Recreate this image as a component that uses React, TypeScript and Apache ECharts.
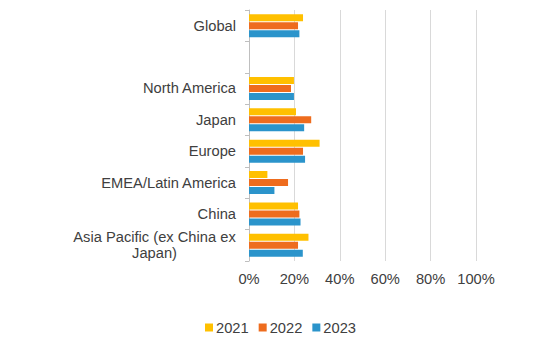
import React, { useEffect, useRef } from "react";
import * as echarts from "echarts";

const categories = [
  "Global",
  "",
  "North America",
  "Japan",
  "Europe",
  "EMEA/Latin America",
  "China",
  "Asia Pacific (ex China ex Japan)",
];
const seriesNames = ["2021", "2022", "2023"];
const values2021 = [23.8, null, 19.8, 20.7, 31.1, 8.1, 21.6, 26.2];
const values2022 = [21.6, null, 18.5, 27.4, 23.8, 17.2, 22.2, 21.6];
const values2023 = [22.2, null, 19.8, 24.3, 24.7, 11.2, 22.7, 23.7];
const xTicks = [0, 20, 40, 60, 80, 100];
const colors = ["#FFC000", "#EE6C1E", "#2B94CB"];

export default function App() {
  const ref = useRef<HTMLDivElement>(null);
  useEffect(() => {
    if (!ref.current) return;
    const chart = echarts.init(ref.current, null, { renderer: "svg" });
    const font = "Liberation Sans, Arial, sans-serif";
    const fs = 14.7;
    const all = [values2021, values2022, values2023];
    chart.setOption({
      animation: false,
      textStyle: { fontFamily: font },
      grid: { left: 249, right: 58, top: 10, bottom: 96, containLabel: false },
      legend: {
        data: seriesNames,
        bottom: 17,
        left: 200,
        itemWidth: 8,
        itemHeight: 8,
        itemGap: 10,
        icon: "rect",
        textStyle: { fontSize: fs, color: "#404040", fontFamily: font, padding: [0, 0, 0, -2] },
      },
      xAxis: {
        type: "value",
        min: xTicks[0],
        max: xTicks[xTicks.length - 1],
        interval: 20,
        axisLine: { show: false },
        axisTick: { show: false },
        splitLine: { show: true, lineStyle: { color: "#D9D9D9", width: 1 } },
        axisLabel: {
          formatter: (v: number) => v + "%",
          fontSize: fs,
          color: "#404040",
          fontFamily: font,
          margin: 10,
        },
      },
      yAxis: {
        type: "category",
        inverse: true,
        data: categories,
        axisLine: { show: true, lineStyle: { color: "#BFBFBF", width: 1 } },
        axisTick: { show: true, length: 4, lineStyle: { color: "#BFBFBF" } },
        splitLine: { show: false },
        axisLabel: {
          fontSize: fs,
          color: "#404040",
          fontFamily: font,
          margin: 13,
          formatter: (v: string) => {
            if (v.indexOf("Asia Pacific") === 0) {
              return "{c|Asia Pacific (ex China ex}\n{c|Japan)}";
            }
            return v;
          },
          rich: {
            c: {
              width: 163,
              align: "center",
              fontSize: fs,
              color: "#404040",
              fontFamily: font,
              lineHeight: 16,
            },
          },
        },
      },
      series: seriesNames.map((name, i) => ({
        name,
        type: "bar",
        data: all[i],
        barWidth: 7,
        barGap: "15%",
        itemStyle: { color: colors[i] },
      })),
    });
    return () => chart.dispose();
  }, []);
  return <div ref={ref} style={{ width: 534, height: 357, position: "absolute", left: 0, top: 0 }} />;
}
